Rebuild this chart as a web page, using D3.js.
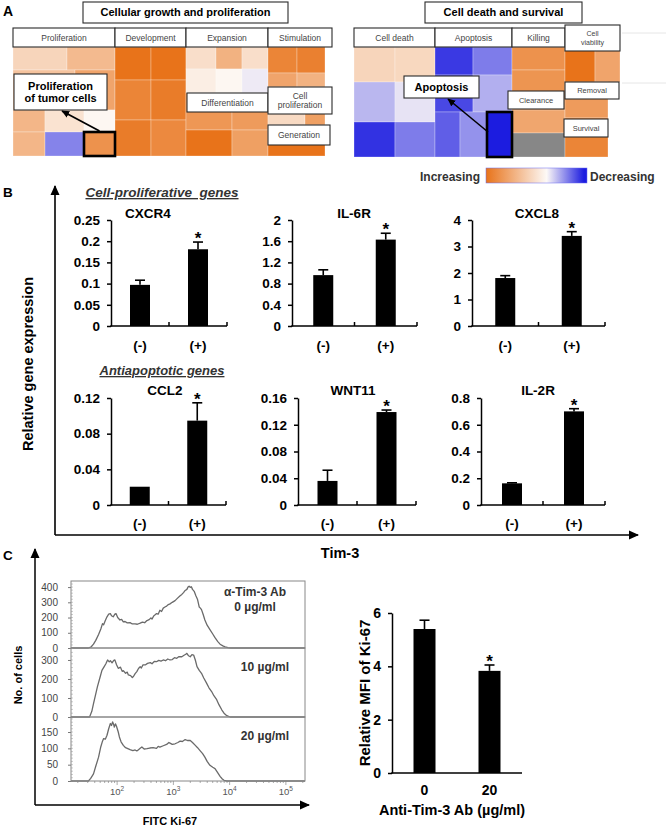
<!DOCTYPE html>
<html><head><meta charset="utf-8">
<script src="https://cdn.jsdelivr.net/npm/d3@7"></script>
<style>body{margin:0;background:#fff}svg{display:block}</style>
</head><body><svg id="c" width="666" height="827"></svg>
<script>
// ================= DATA =================
// Panel A – IPA treemap: column weights, tiles [rowWeight, [[cellWeight, activation z]]]
const growthTitle = "Cellular growth and proliferation";
const growthCols = ["Proliferation", "Development", "Expansion", "Stimulation"];
const growthColWeights = [102, 71, 82, 57];
const growthTiles = [
  [[23, [[54, 0.8], [48, 1.4]]], [40, [[62, 1.2], [40, 1.9]]], [22, [[32, 1.5], [39, 0.5], [31, 0.05]]], [24, [[32, 1.5], [39, -1.6], [31, 2.3]]]],
  [[33, [[36, 3.0], [35, 3.0]]], [40, [[36, 2.6], [35, 2.8]]], [36, [[36, 2.8], [35, 2.5]]]],
  [[22, [[30, 0.6], [26, 1.6], [26, 0.6]]], [24, [[30, 0.25], [26, 0.05], [26, -0.2]]], [37, [[46, 2.2], [36, 2.1]]], [26, [[46, 3.0], [36, 2.0]]]],
  [[26, [[29, 2.6], [28, 2.7]]], [14, [[29, 1.9], [28, 1.6]]], [38, [[37, 0.7], [20, 2.0]]], [31, [[57, 3.0]]]]
];
const deathTitle = "Cell death and survival";
const deathCols = ["Cell death", "Apoptosis", "Killing", "Cell viability"];
const deathColWeights = [81, 77, 53, 55];
const deathTiles = [
  [[35, [[41, 0.8], [40, 0.75]]], [40, [[41, -0.9], [40, -0.3]]], [35, [[41, -2.7], [40, -1.7]]]],
  [[28, [[38, -2.6], [39, -1.7]]], [37, [[38, -2.4], [39, -1.0]]], [45, [[25, -2.1], [27, -1.4], [25, -3.0]]]],
  [[23, [[53, 2.3]]], [40, [[53, 2.25]]], [23, [[53, 1.85]]], [24, [[53, null]]]],
  [[35, [[30, 3.0], [25, 1.9]]], [36, [[43, 2.1], [12, "none"]]], [39, [[43, 2.6], [12, "none"]]]]
];
const legendLabels = ["Increasing", "Decreasing"];

// Panel B – relative gene expression
const geneNames = ["CXCR4", "IL-6R", "CXCL8", "CCL2", "WNT11", "IL-2R"];
const tim3Groups = ["(-)", "(+)"];
const meanNeg = [0.097, 0.96, 1.81, 0.0205, 0.036, 0.162];
const meanPos = [0.181, 1.63, 3.40, 0.0946, 0.139, 0.700];
const errNeg = [0.011, 0.10, 0.09, 0, 0.016, 0.004];
const errPos = [0.017, 0.12, 0.16, 0.020, 0.003, 0.020];
const geneYMax = [0.25, 2, 4, 0.12, 0.16, 0.8];
const geneYTicks = [
  [0, 0.05, 0.1, 0.15, 0.2, 0.25], [0, 0.4, 0.8, 1.2, 1.6, 2], [0, 1, 2, 3, 4],
  [0, 0.04, 0.08, 0.12], [0, 0.04, 0.08, 0.12, 0.16], [0, 0.2, 0.4, 0.6, 0.8]
];
const geneSets = ["Cell-proliferative  genes", "Antiapoptotic genes"];

// Panel C – Ki-67 histograms [log10 FITC intensity, no. of cells]
const histLabels = [["α-Tim-3 Ab", "0 µg/ml"], ["10 µg/ml"], ["20 µg/ml"]];
const histYMax = [440, 363, 196];
const histYTicks = [[0, 100, 200, 300, 400], [0, 100, 200, 300], [0, 50, 100, 150]];
const histXTicks = [2, 3, 4, 5];
const hist0 = [[1.18,0],[1.49,0],[1.54,8],[1.58,25],[1.62,50],[1.67,89],[1.71,125],[1.74,160],[1.76,152],[1.79,180],[1.82,205],[1.85,222],[1.88,226],[1.90,212],[1.93,205],[1.96,222],[1.98,226],[2.01,200],[2.05,184],[2.08,188],[2.11,172],[2.14,174],[2.18,165],[2.23,167],[2.27,158],[2.32,159],[2.36,156],[2.41,163],[2.45,170],[2.49,166],[2.53,180],[2.57,186],[2.60,198],[2.62,190],[2.65,210],[2.67,216],[2.70,226],[2.73,222],[2.76,248],[2.79,240],[2.82,262],[2.85,269],[2.88,275],[2.91,285],[2.94,290],[2.98,300],[3.03,311],[3.07,326],[3.12,343],[3.15,352],[3.18,364],[3.21,378],[3.24,385],[3.26,400],[3.28,406],[3.30,398],[3.32,402],[3.34,385],[3.37,372],[3.40,343],[3.43,318],[3.46,269],[3.48,262],[3.50,252],[3.53,220],[3.56,184],[3.60,150],[3.65,121],[3.70,92],[3.74,68],[3.79,42],[3.83,25],[3.88,14],[3.92,8],[3.97,3],[4.02,0],[5.34,0]];
const hist1 = [[1.18,0],[1.51,0],[1.55,30],[1.58,70],[1.61,108],[1.65,160],[1.70,213],[1.73,245],[1.77,265],[1.80,280],[1.83,300],[1.86,290],[1.88,296],[1.91,285],[1.94,298],[1.96,300],[1.99,275],[2.02,256],[2.06,262],[2.09,240],[2.11,244],[2.15,230],[2.18,236],[2.20,221],[2.24,218],[2.27,208],[2.29,213],[2.32,228],[2.35,239],[2.38,255],[2.41,265],[2.43,258],[2.46,274],[2.50,274],[2.54,282],[2.59,286],[2.62,280],[2.66,292],[2.70,291],[2.74,298],[2.78,294],[2.82,300],[2.86,296],[2.90,305],[2.94,300],[2.98,302],[3.02,312],[3.06,309],[3.10,318],[3.15,317],[3.19,325],[3.22,330],[3.24,335],[3.27,322],[3.30,317],[3.33,328],[3.36,326],[3.39,300],[3.42,265],[3.46,245],[3.50,230],[3.54,205],[3.59,178],[3.63,155],[3.68,134],[3.72,112],[3.77,91],[3.81,65],[3.86,38],[3.90,20],[3.95,7],[4.01,0],[5.34,0]];
const hist2 = [[1.18,0],[1.49,0],[1.53,8],[1.58,22],[1.62,45],[1.67,73],[1.71,105],[1.74,122],[1.76,130],[1.79,128],[1.82,140],[1.85,160],[1.88,176],[1.90,170],[1.92,181],[1.94,172],[1.95,165],[1.97,175],[1.99,167],[2.02,150],[2.04,135],[2.07,120],[2.11,109],[2.15,102],[2.19,99],[2.23,96],[2.28,93],[2.32,95],[2.35,92],[2.38,96],[2.41,100],[2.44,104],[2.48,98],[2.53,99],[2.58,101],[2.64,102],[2.70,100],[2.73,106],[2.76,104],[2.82,108],[2.88,112],[2.92,118],[2.94,116],[2.98,112],[3.03,114],[3.08,118],[3.12,122],[3.16,121],[3.21,127],[3.25,124],[3.30,124],[3.34,118],[3.39,109],[3.43,102],[3.47,94],[3.52,84],[3.56,73],[3.60,60],[3.65,48],[3.70,42],[3.74,38],[3.79,25],[3.83,14],[3.87,6],[3.90,2],[3.95,0],[5.34,0]];

// Panel C – MFI bars
const abDoses = ["0", "20"];
const mfiMean = [5.40, 3.83];
const mfiErr = [0.33, 0.22];
const mfiTicks = [0, 2, 4, 6];

// ================= DRAWING =================
const FONT = "'Liberation Sans', Arial, Helvetica, sans-serif";
const svg = d3.select("#c").attr("font-family", FONT);
const colorZ = d3.scaleLinear().domain([-3, 0, 3]).range(["#1c1ce0", "#fdf9f6", "#e8731a"]).clamp(true);

const defs = svg.append("defs");
function marker(id, size) {
  defs.append("marker").attr("id", id).attr("viewBox", "0 0 10 10").attr("refX", 9).attr("refY", 5)
    .attr("markerWidth", size).attr("markerHeight", size).attr("markerUnits", "userSpaceOnUse").attr("orient", "auto")
    .append("path").attr("d", "M0,0.5L10,5L0,9.5Z").attr("fill", "#000");
}
marker("ahBig", 10); marker("ahSmall", 8);
const grad = defs.append("linearGradient").attr("id", "lg");
[[0, 3], [0.6, 0], [0.97, -3], [1, -3]].forEach(([o, z]) => grad.append("stop").attr("offset", o).attr("stop-color", colorZ(z)));

function txt(x, y, s, size, opts = {}) {
  return svg.append("text").attr("x", x).attr("y", y).text(s).attr("font-size", size)
    .attr("font-weight", opts.bold ? "bold" : "normal").attr("text-anchor", opts.anchor || "middle")
    .attr("fill", opts.fill || "#000").attr("font-style", opts.italic ? "italic" : "normal");
}
function labelBox(x0, y0, x1, y1, lines, size, bold, fill) {
  svg.append("rect").attr("x", x0).attr("y", y0).attr("width", x1 - x0).attr("height", y1 - y0)
    .attr("fill", "#fff").attr("stroke", "#2a2a2a").attr("stroke-width", 1.1);
  const lh = size * 1.15, cy = (y0 + y1) / 2, n = lines.length;
  lines.forEach((l, i) => txt((x0 + x1) / 2, cy + (i - (n - 1) / 2) * lh + size * 0.36, l, size, { bold, fill: fill || (bold ? "#000" : "#444") }));
}
function treemap(colWeights, tiles, x0, x1, y0, y1) {
  const xs = d3.scaleLinear().domain([0, d3.sum(colWeights)]).range([x0, x1]);
  const g = svg.append("g");
  const edges = [], bounds = {};
  let acc = 0;
  colWeights.forEach((w, ci) => {
    const cx0 = xs(acc), cx1 = xs(acc + w); acc += w; edges.push([cx0, cx1]);
    const rows = tiles[ci];
    const ys = d3.scaleLinear().domain([0, d3.sum(rows, r => r[0])]).range([y0, y1]);
    let ra = 0;
    rows.forEach((r, ri) => {
      const ry0 = ys(ra), ry1 = ys(ra + r[0]); ra += r[0];
      const xc = d3.scaleLinear().domain([0, d3.sum(r[1], c => c[0])]).range([cx0, cx1]);
      let ca = 0;
      r[1].forEach((c, k) => {
        const a = xc(ca), b = xc(ca + c[0]); ca += c[0];
        bounds[ci + "-" + ri + "-" + k] = { x0: a, x1: b, y0: ry0, y1: ry1 };
        if (c[1] === "none") return;
        g.append("rect").attr("x", a).attr("y", ry0).attr("width", b - a).attr("height", ry1 - ry0)
          .attr("fill", c[1] === null ? "#878787" : colorZ(c[1]))
          .attr("stroke", "#fff").attr("stroke-opacity", 0.35).attr("stroke-width", 0.8);
      });
    });
  });
  return { edges, bounds };
}

// ---------- Panel A ----------
txt(3, 16, "A", 14, { bold: true, anchor: "start" });
const TL = treemap(growthColWeights, growthTiles, 13, 325, 47, 156);
const TR = treemap(deathColWeights, deathTiles, 354, 620, 47, 157);
svg.append("g").selectAll("line").data([33, 83]).join("line").attr("x1", 622).attr("x2", 666)
  .attr("y1", d => d).attr("y2", d => d).attr("stroke", "#e6e6e6").attr("stroke-width", 1);

labelBox(83, 2, 288, 23, [growthTitle], 11, true);
labelBox(425, 2, 582, 23, [deathTitle], 11, true);
growthCols.forEach((c, i) => {
  const [a, b] = TL.edges[i];
  labelBox(a, 28, i === growthCols.length - 1 ? b + 7 : b, 47, [c], 8.5, false);
});
deathCols.forEach((c, i) => {
  const [a, b] = TR.edges[i];
  if (i === 3) labelBox(a, 25, b, 51, ["Cell", "viability"], 7, false);
  else labelBox(a, 28, b, 47, [c], 8.5, false);
});
// sub-category boxes
labelBox(TL.edges[2][0] + 1, 93, TL.edges[2][1], 112, ["Differentiation"], 8.5, false);
labelBox(TL.edges[3][0], 87, TL.edges[3][1] + 7, 114, ["Cell", "proliferation"], 8.5, false);
labelBox(TL.edges[3][0], 125, TL.edges[3][1] + 5, 145, ["Generation"], 8.5, false);
labelBox(TR.edges[2][0] - 4, 91, TR.edges[2][1] - 1, 109, ["Clearance"], 7.5, false);
labelBox(TR.edges[3][0], 82, TR.edges[3][1] - 1, 99, ["Removal"], 7.5, false);
labelBox(TR.edges[3][0] - 1, 119, TR.bounds["3-1-0"].x1, 137, ["Survival"], 7.5, false);

// highlighted tiles + arrows + callouts
function highlight(b) {
  svg.append("rect").attr("x", b.x0).attr("y", b.y0).attr("width", b.x1 - b.x0).attr("height", b.y1 - b.y0)
    .attr("fill", "none").attr("stroke", "#000").attr("stroke-width", 2.6);
}
const hL = TL.bounds["0-3-2"], hR = TR.bounds["1-2-2"];
highlight(hL); highlight(hR);
svg.append("line").attr("x1", (hL.x0 + hL.x1) / 2).attr("y1", hL.y0 - 1).attr("x2", 62).attr("y2", 111)
  .attr("stroke", "#000").attr("stroke-width", 1.6).attr("marker-end", "url(#ahSmall)");
svg.append("line").attr("x1", hR.x0 + 1).attr("y1", hR.y0 + 20).attr("x2", 448).attr("y2", 99)
  .attr("stroke", "#000").attr("stroke-width", 1.6).attr("marker-end", "url(#ahSmall)");
labelBox(14, 74, 107, 110, ["Proliferation", "of tumor cells"], 11, true);
labelBox(404, 76, 479, 98, ["Apoptosis"], 11, true);

// legend
txt(480, 181, legendLabels[0], 12, { bold: true, anchor: "end", fill: "#333" });
svg.append("rect").attr("x", 486).attr("y", 168).attr("width", 101).attr("height", 15).attr("fill", "url(#lg)")
  .attr("stroke", "#6a6af0").attr("stroke-width", 0.5);
txt(590, 181, legendLabels[1], 12, { bold: true, anchor: "start", fill: "#333" });

// ---------- Panel B ----------
txt(3, 197, "B", 13.5, { bold: true, anchor: "start" });
svg.append("line").attr("x1", 55).attr("y1", 535).attr("x2", 55).attr("y2", 186).attr("stroke", "#000").attr("stroke-width", 1.6).attr("marker-end", "url(#ahBig)");
svg.append("line").attr("x1", 55).attr("y1", 535).attr("x2", 638).attr("y2", 535).attr("stroke", "#000").attr("stroke-width", 1.6).attr("marker-end", "url(#ahBig)");
txt(0, 0, "Relative gene expression", 14.5, { bold: true }).attr("transform", "translate(33,364) rotate(-90)");
txt(340, 558, "Tim-3", 14.5, { bold: true });

txt(162, 197, geneSets[0], 13.5, { bold: true, italic: true, fill: "#333" }).style("white-space", "pre").attr("text-decoration", "underline");
txt(162, 375, geneSets[1], 13, { bold: true, italic: true, fill: "#333" }).attr("text-decoration", "underline");

const rowFrames = [{ top: 220, bottom: 326, lab: 350, title: 218, cols: [[111, 227], [292, 417], [472, 605]], titleX: [148, 354, 537] },
                   { top: 398, bottom: 505, lab: 528, title: 395, cols: [[111, 226], [298, 416], [481, 605]], titleX: [165, 353, 538] }];

function barChart(x0, x1, top, bottom, yMax, ticks, cats, means, errs, starIdx, opts) {
  const y = d3.scaleLinear().domain([0, yMax]).range([bottom, top]);
  const x = d3.scaleBand().domain(cats).range([x0, x1]);
  const bw = opts.barW;
  const g = svg.append("g");
  g.selectAll("rect").data(cats).join("rect")
    .attr("x", d => x(d) + x.bandwidth() / 2 - bw / 2).attr("width", bw)
    .attr("y", (d, i) => y(means[i])).attr("height", (d, i) => bottom - y(means[i])).attr("fill", "#000");
  cats.forEach((c, i) => {
    if (errs[i] <= 0) return;
    const cx = x(c) + x.bandwidth() / 2, yt = y(means[i] + errs[i]);
    g.append("line").attr("x1", cx).attr("x2", cx).attr("y1", y(means[i])).attr("y2", yt).attr("stroke", "#000").attr("stroke-width", 1.6);
    g.append("line").attr("x1", cx - 5).attr("x2", cx + 5).attr("y1", yt).attr("y2", yt).attr("stroke", "#000").attr("stroke-width", 1.6);
  });
  if (starIdx >= 0) {
    const cx = x(cats[starIdx]) + x.bandwidth() / 2;
    txt(cx, y(means[starIdx] + errs[starIdx]) + 2, "*", 17, { bold: true });
  }
  const ax = d3.axisLeft(y).tickValues(ticks).tickSize(4).tickSizeOuter(0).tickPadding(opts.pad).tickFormat(d => String(d));
  const ga = svg.append("g").attr("transform", `translate(${x0},0)`).call(ax).attr("font-family", FONT).attr("font-size", opts.fs);
  ga.select(".domain").attr("stroke", "#000").attr("stroke-width", 1.5);
  ga.selectAll(".tick line").attr("stroke", "#000").attr("stroke-width", 1.5);
  ga.selectAll(".tick text").attr("font-weight", "bold").attr("fill", "#000");
  svg.append("line").attr("x1", x0 - 0.75).attr("x2", x1).attr("y1", bottom).attr("y2", bottom).attr("stroke", "#000").attr("stroke-width", 1.5);
  if (opts.xTicks) {
    [x(cats[1]), x1].forEach(t => svg.append("line").attr("x1", t).attr("x2", t).attr("y1", bottom).attr("y2", bottom - 4).attr("stroke", "#000").attr("stroke-width", 1.5));
  }
  cats.forEach(c => txt(x(c) + x.bandwidth() / 2, opts.labY, c, opts.labFs, { bold: true }));
  return { x, y };
}

geneNames.forEach((gname, i) => {
  const fr = rowFrames[Math.floor(i / 3)], [x0, x1] = fr.cols[i % 3];
  txt(fr.titleX[i % 3], fr.title, gname, 13.5, { bold: true });
  barChart(x0, x1, fr.top, fr.bottom, geneYMax[i], geneYTicks[i], tim3Groups,
    [meanNeg[i], meanPos[i]], [errNeg[i], errPos[i]], 1,
    { barW: 20, pad: 7, fs: 13.5, xTicks: true, labY: fr.lab, labFs: 13.5 });
});

// ---------- Panel C ----------
txt(3, 560, "C", 13.5, { bold: true, anchor: "start" });
svg.append("line").attr("x1", 35).attr("y1", 805).attr("x2", 35).attr("y2", 549).attr("stroke", "#000").attr("stroke-width", 1.5).attr("marker-end", "url(#ahBig)");
svg.append("line").attr("x1", 35).attr("y1", 805).attr("x2", 309).attr("y2", 805).attr("stroke", "#000").attr("stroke-width", 1.5).attr("marker-end", "url(#ahBig)");
txt(0, 0, "No. of cells", 11, { bold: true }).attr("transform", "translate(22,675) rotate(-90)");
txt(170, 825, "FITC Ki-67", 11, { bold: true });

const hx = d3.scaleLog().domain([Math.pow(10, 1.18), Math.pow(10, 5.34)]).range([71, 305]);
const panelsY = [[581, 648], [648, 717], [717, 781]];
const hists = [hist0, hist1, hist2];
hists.forEach((h, p) => {
  const [t, b] = panelsY[p];
  const y = d3.scaleLinear().domain([0, histYMax[p]]).range([b, t]);
  const minor = d3.range(0, histYMax[p], histYMax[p] > 300 ? 20 : 10);
  svg.append("g").selectAll("line").data(minor).join("line").attr("x1", 71).attr("x2", 73)
    .attr("y1", d => y(d)).attr("y2", d => y(d)).attr("stroke", "#aaa").attr("stroke-width", 0.6);
  const ax = d3.axisLeft(y).tickValues(histYTicks[p]).tickSize(3).tickSizeOuter(0).tickPadding(10).tickFormat(d => String(d));
  const ga = svg.append("g").attr("transform", "translate(71,0)").call(ax).attr("font-family", FONT).attr("font-size", 10);
  ga.select(".domain").remove();
  ga.selectAll(".tick line").attr("stroke", "#777");
  ga.selectAll(".tick text").attr("fill", "#444");
  const line = d3.line().x(d => hx(Math.pow(10, d[0]))).y(d => y(d[1]));
  svg.append("path").attr("d", line(h)).attr("fill", "none").attr("stroke", "#6a6a6a").attr("stroke-width", 1.3).attr("stroke-linejoin", "round");
  svg.append("rect").attr("x", 71).attr("y", t).attr("width", 234).attr("height", b - t).attr("fill", "none").attr("stroke", "#888").attr("stroke-width", 1);
  histLabels[p].forEach((l, k) => txt(p === 0 ? 255 : 265, t + 15 + k * 15 + (p === 0 ? 0 : 8), l, 12, { bold: true, fill: "#333" }));
});
const minorX = [];
for (let e = 1; e <= 5; e++) for (let m = 1; m <= 9; m++) { const v = m * Math.pow(10, e); if (v >= hx.domain()[0] && v <= hx.domain()[1]) minorX.push(v); }
svg.append("g").selectAll("line").data(minorX).join("line")
  .attr("x1", d => hx(d)).attr("x2", d => hx(d)).attr("y1", 781).attr("y2", d => Math.abs(Math.log10(d) % 1) < 1e-9 ? 785 : 783)
  .attr("stroke", "#888").attr("stroke-width", 0.7);
histXTicks.forEach(e => {
  const t = svg.append("text").attr("x", hx(Math.pow(10, e))).attr("y", 795).attr("text-anchor", "middle").attr("font-size", 9.5).attr("fill", "#555");
  t.append("tspan").text("10");
  t.append("tspan").text(String(e)).attr("font-size", 6.5).attr("dy", -4);
});

// MFI bar chart
barChart(392, 522, 613, 773, 6, mfiTicks, abDoses, mfiMean, mfiErr, 1,
  { barW: 22, pad: 7, fs: 14, xTicks: false, labY: 795, labFs: 14 });
txt(0, 0, "Relative MFI of Ki-67", 15, { bold: true }).attr("transform", "translate(370,693) rotate(-90)");
txt(452, 815, "Anti-Tim-3 Ab (µg/ml)", 14.5, { bold: true });
</script></body></html>
